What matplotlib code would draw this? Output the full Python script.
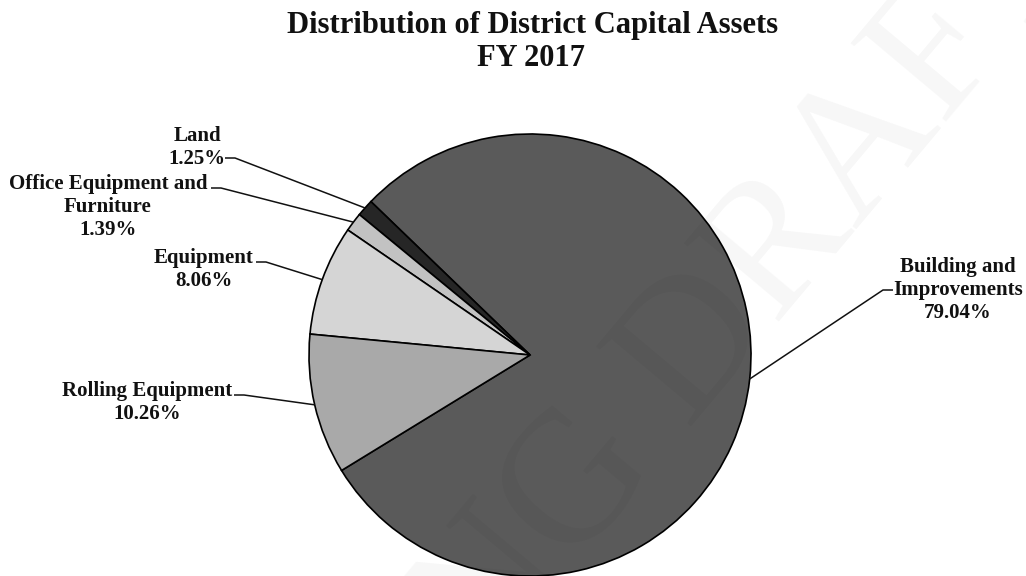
import numpy as np
import matplotlib
matplotlib.use("Agg")
import matplotlib.pyplot as plt

matplotlib.rcParams.update({'font.family': 'serif'})
matplotlib.rcParams['font.serif'] = ['Liberation Serif', 'DejaVu Serif']

W, H = 1026, 576

categories = ["Building and\nImprovements", "Land", "Office Equipment and\nFurniture",
              "Equipment", "Rolling Equipment"]
shares = [79.04, 1.25, 1.39, 8.06, 10.26]
slice_colors = ['#5a5a5a', '#262626', '#c2c2c2', '#d5d5d5', '#a9a9a9']

# label layout in image pixels: (centre x, centre y of first line, leader start x, leader y)
label_pos = [
    (958, 267, 893, 290, 'left'),
    (197, 136, 225, 158, 'right'),
    (108, 184, 211, 188, 'right'),
    (204, 258, 256, 262, 'right'),
    (147, 391, 234, 395, 'right'),
]

fig = plt.figure(figsize=(W / 100, H / 100), dpi=100)
ax = fig.add_axes([0, 0, 1, 1])

cx, cy, r = 530, H - 355, 221
wedges, _ = ax.pie(shares, colors=slice_colors, startangle=211.5, counterclock=True,
                   center=(cx, cy), radius=r,
                   wedgeprops=dict(edgecolor='black', linewidth=1.2))

ax.set_xlim(0, W)
ax.set_ylim(0, H)
ax.set_aspect('equal')
ax.axis('off')

line_h = 23
for w, cat, val, (tx, ty, lx, ly, side) in zip(wedges, categories, shares, label_pos):
    lines = cat.split("\n") + [f"{val:.2f}%"]
    for k, s in enumerate(lines):
        ax.text(tx, H - (ty + k * line_h), s, ha='center', va='center',
                fontsize=15, fontweight='bold', color='#111111')
    mid = np.deg2rad((w.theta1 + w.theta2) / 2)
    px, py = cx + r * np.cos(mid), cy + r * np.sin(mid)
    step = 10 if side == 'right' else -10
    ax.plot([lx, lx + step, px], [H - ly, H - ly, py], color='#111111', lw=1.1,
            solid_capstyle='butt')

fig.text(533 / W, 1 - 25 / H, "Distribution of District Capital Assets", ha='center', va='center',
         fontsize=22, fontweight='bold', color='#111111')
fig.text(531 / W, 1 - 58 / H, "FY 2017", ha='center', va='center',
         fontsize=22, fontweight='bold', color='#111111')

# faint watermark
ax.text(545, H - 530, "WORKING DRAFT", ha='center', va='center', rotation=50,
        fontsize=135, color='black', alpha=0.035, zorder=5)

fig.savefig("out.png", dpi=100)
